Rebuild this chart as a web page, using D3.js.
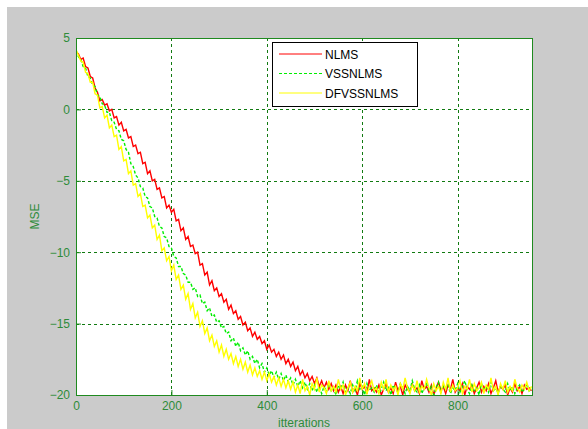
<!DOCTYPE html>
<html lang="en">
<head>
  <meta charset="UTF-8">
  <title>MSE vs iterations</title>
  <script src="https://d3js.org/d3.v7.min.js"></script>
  <style>
    body, html { margin: 0; padding: 0; background: #fff; overflow: hidden; }
    svg { display: block; font-family: Arial, "Liberation Sans", sans-serif; }
  </style>
</head>
<body>
  <svg id="chart" width="588" height="429"></svg>

  <script>
    // Data (one sample every 5 iterations)
    const step = 5;
    const xTicks = [0, 200, 400, 600, 800];
    const yTicks = [5, 0, -5, -10, -15, -20];
    const seriesNames = ['NLMS', 'VSSNLMS', 'DFVSSNLMS'];

    const nlms = [
      4.0, 3.9, 3.5, 3.6, 3.0, 2.9, 2.3, 2.2, 1.5, 1.2,
      0.6, 0.7, 0.3, 0.4, -0.1, 0.0, -0.6, -0.5, -1.1, -0.9,
      -1.5, -1.4, -2.0, -1.9, -2.6, -2.5, -3.1, -3.0, -3.8, -3.7,
      -4.5, -4.3, -5.0, -4.9, -5.6, -5.5, -6.2, -6.1, -6.9, -6.7,
      -7.2, -7.0, -7.8, -7.7, -8.5, -8.3, -9.1, -8.9, -9.6, -9.5,
      -10.1, -10.0, -10.9, -10.8, -11.6, -11.4, -12.3, -12.0, -12.7, -12.5,
      -13.1, -12.9, -13.5, -13.3, -14.0, -13.7, -14.3, -14.1, -14.7, -14.5,
      -15.1, -14.9, -15.5, -15.3, -15.9, -15.6, -16.1, -15.9, -16.4, -16.2,
      -16.8, -16.5, -17.0, -16.8, -17.3, -17.0, -17.5, -17.2, -17.8, -17.5,
      -18.0, -17.7, -18.3, -18.0, -18.6, -18.3, -18.8, -18.5, -19.0, -18.7,
      -19.2, -18.8, -19.4, -19.0, -19.5, -19.1, -19.6, -19.2, -19.7, -19.3,
      -19.8,
      -19.4, -19.9, -19.3, -19.7, -19.0, -19.8, -19.5, -20.0, -19.2, -19.6,
      -19.4, -19.9, -18.9, -19.7, -19.5, -19.8, -19.3, -20.0, -19.6, -19.2,
      -19.8, -19.5, -19.9, -19.1, -19.7, -19.4, -20.0, -19.3, -19.6, -19.8,
      -19.2, -19.7, -19.5, -19.9, -19.0, -19.6, -19.4, -19.8, -19.3, -20.0,
      -19.5, -19.1, -19.7, -19.4, -19.9, -19.3, -19.6, -18.9, -19.8, -19.5,
      -19.7, -19.2, -20.0, -19.4, -19.6, -19.3, -19.9, -19.5, -19.1, -19.8,
      -19.4, -19.7, -19.2, -19.9, -19.5, -19.0, -19.8, -19.4, -19.6, -19.3,
      -20.0, -19.5, -19.8, -19.2, -19.7, -19.4, -19.9, -19.3, -19.6, -19.5,
      -19.7
    ];

    const vssnlms = [
      4.1, 3.7, 3.5, 3.0, 2.9, 2.3, 2.2, 1.7, 1.6, 1.0,
      0.9, 0.4, 0.3, -0.2, -0.2, -0.8, -0.9, -1.4, -1.5, -2.1,
      -2.2, -2.8, -3.0, -3.8, -4.0, -4.6, -4.8, -5.4, -5.5, -6.1,
      -6.2, -6.8, -6.9, -7.5, -7.6, -8.2, -8.3, -8.9, -9.0, -9.6,
      -9.7, -10.3, -10.4, -11.0, -11.0, -11.5, -11.6, -12.1, -12.1, -12.6,
      -12.5, -13.1, -13.0, -13.6, -13.5, -14.1, -13.9, -14.5, -14.4, -14.9,
      -14.8, -15.3, -15.2, -15.7, -15.6, -16.2, -16.0, -16.6, -16.3, -16.9,
      -16.7, -17.2, -16.9, -17.5, -17.3, -17.8, -17.5, -18.1, -17.8, -18.4,
      -18.1, -18.6, -18.3, -18.8, -18.4, -18.9, -18.5, -19.0, -18.6, -19.1,
      -18.8, -19.3, -18.9, -19.4, -19.0, -19.5, -19.1, -19.6, -19.2, -19.7,
      -19.3, -19.8, -19.4, -19.9,
      -19.4, -19.8, -19.2, -19.7, -19.5, -20.0, -19.3, -19.6, -19.1, -19.8,
      -19.5, -19.9, -19.3, -19.7, -19.0, -19.6, -19.4, -20.0, -19.2, -19.7,
      -19.5, -19.8, -19.3, -19.9, -19.6, -19.1, -19.7, -19.4, -20.0, -19.3,
      -19.6, -19.8, -19.2, -19.5, -19.9, -19.4, -19.7, -19.0, -19.6, -19.8,
      -19.3, -19.9, -19.5, -19.2, -19.7, -19.4, -20.0, -19.5, -19.1, -19.8,
      -19.4, -19.6, -19.3, -19.9, -19.5, -19.7, -19.2, -19.8, -19.4, -19.0,
      -19.6, -19.9, -19.3, -19.7, -19.5, -20.0, -19.2, -19.6, -19.4, -19.8,
      -19.1, -19.7, -19.5, -19.9, -19.3, -19.6, -19.8, -19.2, -19.7, -19.4,
      -19.9, -19.5, -19.3, -19.8, -19.6, -19.2, -19.7, -19.5
    ];

    const dfvssnlms = [
      4.2, 3.8, 3.4, 3.3, 2.6, 2.5, 1.9, 1.9, 1.1, 1.0,
      0.1, 0.2, -0.6, -0.4, -1.3, -1.1, -1.9, -1.8, -2.8, -2.6,
      -3.6, -3.5, -4.5, -4.3, -5.3, -5.2, -6.1, -5.9, -6.8, -6.7,
      -7.6, -7.4, -8.3, -8.1, -9.1, -8.8, -9.9, -9.7, -10.6, -10.3,
      -11.3, -10.9, -11.9, -11.6, -12.6, -12.3, -13.3, -12.9, -14.0, -13.6,
      -14.6, -14.2, -15.2, -14.8, -15.7, -15.3, -16.2, -15.8, -16.6, -16.2,
      -17.0, -16.5, -17.3, -16.8, -17.5, -17.1, -17.8, -17.3, -18.0, -17.5,
      -18.2, -17.7, -18.4, -17.9, -18.6, -18.1, -18.7, -18.3, -18.9, -18.4,
      -19.0, -18.5, -19.1, -18.7, -19.3, -18.8, -19.4, -18.9, -19.5, -19.0,
      -19.6, -19.1, -19.8, -19.3, -19.9, -18.9, -19.7, -19.4, -20.0, -19.2,
      -19.6, -18.8, -19.8, -19.3, -19.5, -19.9, -19.0, -19.7, -19.4, -19.8,
      -18.9, -19.6, -19.3, -20.0, -19.5, -19.1, -19.8, -19.4, -19.7, -18.8,
      -19.6, -19.2, -19.9, -19.4, -19.0, -19.7, -19.5, -19.9, -19.1, -19.6,
      -18.9, -19.8, -19.3, -19.7, -19.4, -20.0, -19.2, -19.6, -18.8, -19.5,
      -19.9, -19.3, -19.7, -19.0, -19.8, -19.4, -19.6, -18.9, -19.5, -20.0,
      -19.2, -19.7, -19.4, -19.9, -19.1, -19.6, -18.8, -19.8, -19.3, -19.7,
      -19.5, -19.0, -19.9, -19.4, -19.6, -18.9, -19.8, -19.2, -19.7, -19.5,
      -19.1, -19.9, -19.3, -19.6, -18.8, -19.7, -19.4, -20.0, -19.2, -19.6,
      -19.0, -19.8, -19.4, -19.7, -18.9, -19.5, -19.8, -19.3, -19.6, -19.1,
      -19.7, -19.4
    ];

    // Layout
    const W = 588, H = 429;
    const plot = { left: 76, top: 38, right: 532, bottom: 395 };
    const axisColor = '#1f8a1f';
    const textColor = '#2e8b3a';

    const svg = d3.select('#chart');

    // figure background
    svg.append('rect')
      .attr('x', 7).attr('y', 7)
      .attr('width', W - 7).attr('height', H - 7)
      .attr('fill', '#cbcbcb');

    const x = d3.scaleLinear().domain([0, 956]).range([plot.left, plot.right]);
    const y = d3.scaleLinear().domain([-20, 5]).range([plot.bottom, plot.top]);

    svg.append('rect')
      .attr('x', plot.left).attr('y', plot.top)
      .attr('width', plot.right - plot.left).attr('height', plot.bottom - plot.top)
      .attr('fill', '#fff');

    // grid
    const grid = svg.append('g')
      .attr('stroke', '#117a11')
      .attr('stroke-width', 1)
      .attr('stroke-dasharray', '3,3');
    grid.selectAll('.gx').data(xTicks.filter(d => d > 0)).enter().append('line')
      .attr('x1', d => Math.round(x(d)) + 0.5).attr('x2', d => Math.round(x(d)) + 0.5)
      .attr('y1', plot.top).attr('y2', plot.bottom);
    grid.selectAll('.gy').data(yTicks.filter(d => d > -20 && d < 5)).enter().append('line')
      .attr('y1', d => Math.round(y(d)) + 0.5).attr('y2', d => Math.round(y(d)) + 0.5)
      .attr('x1', plot.left).attr('x2', plot.right);

    // lines
    svg.append('clipPath').attr('id', 'clip').append('rect')
      .attr('x', plot.left).attr('y', plot.top)
      .attr('width', plot.right - plot.left).attr('height', plot.bottom - plot.top);

    const line = d3.line()
      .x((d, i) => x(i * step))
      .y(d => y(d));

    const series = [
      { name: seriesNames[0], values: nlms, color: '#ff0000', dash: null, width: 1.4 },
      { name: seriesNames[1], values: vssnlms, color: '#00ee00', dash: '3,2', width: 1.4 },
      { name: seriesNames[2], values: dfvssnlms, color: '#ffff00', dash: null, width: 1.4 }
    ];

    const lines = svg.append('g').attr('clip-path', 'url(#clip)');
    series.forEach(s => {
      lines.append('path')
        .datum(s.values)
        .attr('d', line)
        .attr('fill', 'none')
        .attr('stroke', s.color)
        .attr('stroke-width', s.width)
        .attr('stroke-dasharray', s.dash);
    });

    // axes
    const xAxis = d3.axisBottom(x).tickValues(xTicks).tickSize(-5).tickPadding(6).tickSizeOuter(0);
    const yAxis = d3.axisLeft(y).tickValues(yTicks).tickSize(-5).tickPadding(6).tickSizeOuter(0);

    const gx = svg.append('g').attr('transform', `translate(0,${plot.bottom})`).call(xAxis);
    const gy = svg.append('g').attr('transform', `translate(${plot.left},0)`).call(yAxis);
    [gx, gy].forEach(g => {
      g.select('.domain').remove();
      g.selectAll('line').attr('stroke', axisColor);
      g.selectAll('text').attr('fill', textColor).style('font-size', '12px')
        .style('font-family', 'Arial, "Liberation Sans", sans-serif');
    });

    // box
    svg.append('rect')
      .attr('x', plot.left + 0.5).attr('y', plot.top + 0.5)
      .attr('width', plot.right - plot.left).attr('height', plot.bottom - plot.top)
      .attr('fill', 'none').attr('stroke', axisColor).attr('stroke-width', 1);

    // labels (x label sits at the bottom edge, partly cut as in the original)
    svg.append('text')
      .attr('x', (plot.left + plot.right) / 2).attr('y', 427)
      .attr('text-anchor', 'middle')
      .attr('fill', textColor).style('font-size', '12px')
      .text('itterations');
    svg.append('text')
      .attr('transform', `translate(39,${(plot.top + plot.bottom) / 2}) rotate(-90)`)
      .attr('text-anchor', 'middle')
      .attr('fill', textColor).style('font-size', '12px')
      .text('MSE');

    // legend
    const lg = svg.append('g').attr('transform', 'translate(272,42)');
    lg.append('rect')
      .attr('x', 0.5).attr('y', 0.5).attr('width', 145).attr('height', 64)
      .attr('fill', '#fff').attr('stroke', '#000');
    series.forEach((s, i) => {
      const yy = 12 + i * 19.5;
      lg.append('line')
        .attr('x1', 7).attr('x2', 50).attr('y1', yy).attr('y2', yy)
        .attr('stroke', s.color).attr('stroke-width', 1)
        .attr('stroke-dasharray', s.dash);
      lg.append('text')
        .attr('x', 53).attr('y', yy + 4.5)
        .attr('fill', '#000').style('font-size', '12px')
        .text(s.name);
    });
  </script>
</body>
</html>
